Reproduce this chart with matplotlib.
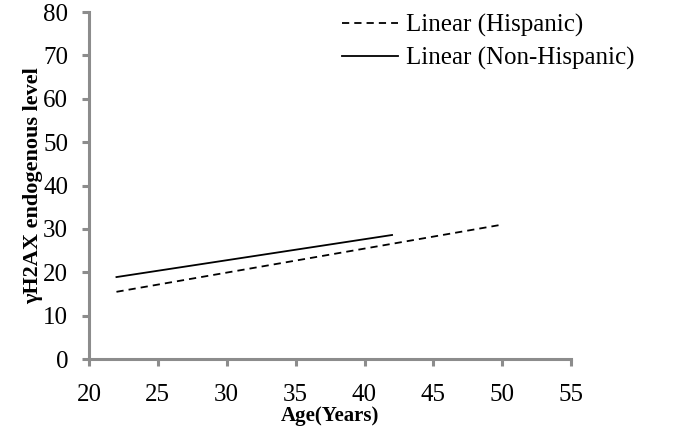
import matplotlib
matplotlib.use("Agg")
import matplotlib.pyplot as plt

# Data (trend-line endpoints)
hisp_age = [22, 50]
hisp_val = [15.5, 31.0]
nonhisp_age = [22, 42]
nonhisp_val = [18.9, 28.6]

x_ticks = [20, 25, 30, 35, 40, 45, 50, 55]
y_ticks = [0, 10, 20, 30, 40, 50, 60, 70, 80]

plt.rcParams['font.family'] = ['Liberation Serif', 'DejaVu Serif']

fig = plt.figure(figsize=(7, 4.3), dpi=100)
ax = fig.add_axes([0.127, 0.165, 0.689, 0.807])

ax.plot(hisp_age, hisp_val, color='black', lw=1.3, ls=(0, (4, 2.8)), label='Linear (Hispanic)')
ax.plot(nonhisp_age, nonhisp_val, color='black', lw=1.3, ls='-', label='Linear (Non-Hispanic)')

ax.set_xlim(20, 55)
ax.set_ylim(0, 80)
ax.set_xticks(x_ticks)
ax.set_yticks(y_ticks)

gray = '#8c8c8c'
for s in ['top', 'right']:
    ax.spines[s].set_visible(False)
for s in ['left', 'bottom']:
    ax.spines[s].set_color(gray)
    ax.spines[s].set_linewidth(2.2)
ax.tick_params(axis='both', direction='out', color=gray, width=2.2, length=5,
               labelsize=18, labelcolor='black')
ax.tick_params(axis='y', pad=10)
ax.tick_params(axis='x', pad=13)

ax.set_xlabel('Age(Years)', fontsize=15, fontweight='bold', labelpad=0)
ax.set_ylabel('γH2AX endogenous level', fontsize=16, fontweight='bold', labelpad=0)

leg = fig.legend(loc='upper left', bbox_to_anchor=(342 / 700, 1 - 14 / 430), frameon=False,
                 fontsize=18, handlelength=2.25, handletextpad=0.32, labelspacing=0.38,
                 borderpad=0, borderaxespad=0)

fig.savefig('out.png', dpi=100)
